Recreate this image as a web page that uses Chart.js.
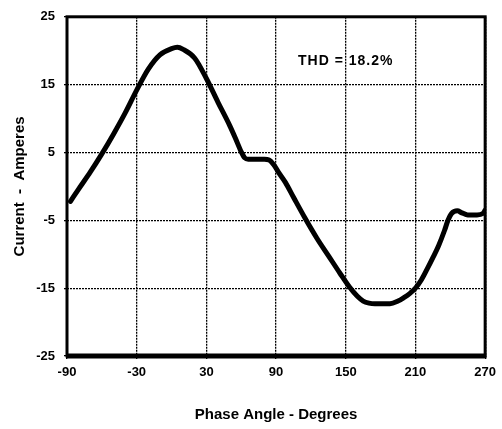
<!DOCTYPE html>
<html>
<head>
<meta charset="utf-8">
<script src="https://cdn.jsdelivr.net/npm/chart.js@4/dist/chart.umd.min.js"></script>
<style>
  html, body { margin: 0; padding: 0; background: #fff; }
  #wrap { width: 502px; height: 429px; }
</style>
</head>
<body>
<div id="wrap"><canvas id="wave"></canvas></div>
<script>
// phase angle (degrees) and line current (amperes)
const phaseAngle = [-87, -80, -70, -60, -50, -40, -30, -20, -10, 0, 5, 10, 20, 30, 40, 50, 55, 60, 63, 66,
  70, 80, 84, 88, 92, 98, 105, 115, 125, 135, 145, 153, 160, 165, 170, 175, 180, 188, 195, 200,
  205, 210, 215, 220, 225, 230, 235, 238, 241, 246, 250, 255, 263, 268, 270];
const current = [-2.2, -0.4, 2.1, 4.8, 7.7, 10.8, 14.2, 17.3, 19.4, 20.3, 20.5, 20.2, 18.9, 15.9, 12.4, 9.0, 7.1, 5.1, 4.2, 4.0,
  4.0, 4.0, 3.9, 3.2, 2.1, 0.6, -1.6, -4.7, -7.6, -10.2, -12.8, -14.8, -16.2, -16.9, -17.2, -17.3, -17.3, -17.3, -16.9, -16.4,
  -15.8, -15.0, -13.8, -12.2, -10.5, -8.7, -6.5, -5.0, -4.0, -3.6, -3.9, -4.2, -4.2, -4.0, -3.5];

const xTicks = [-90, -30, 30, 90, 150, 210, 270];
const yTicks = [-25, -15, -5, 5, 15, 25];

const thdText = 'THD = 18.2%';
const thdAt = { x: 150, y: 18.5 };

const boldFont = size => ({ family: '"Liberation Sans", Arial, sans-serif', size: size, weight: 'bold' });

// heavy black frame round the plot area, bottom edge thicker
const framePlugin = {
  id: 'frame',
  afterDraw(chart) {
    const { ctx, chartArea: a } = chart;
    ctx.save();
    ctx.strokeStyle = '#000';
    ctx.lineWidth = 3;
    ctx.strokeRect(a.left, a.top, a.right - a.left, a.bottom - a.top);
    ctx.lineWidth = 5;
    ctx.beginPath();
    ctx.moveTo(a.left - 1, a.bottom);
    ctx.lineTo(a.right + 1, a.bottom);
    ctx.stroke();
    ctx.restore();
  }
};

const thdPlugin = {
  id: 'thd',
  afterDatasetsDraw(chart) {
    const { ctx, scales } = chart;
    ctx.save();
    ctx.font = 'bold 14px "Liberation Sans", Arial, sans-serif';
    ctx.letterSpacing = '1px';
    ctx.fillStyle = '#000';
    ctx.textAlign = 'center';
    ctx.textBaseline = 'middle';
    ctx.fillText(thdText, scales.x.getPixelForValue(thdAt.x), scales.y.getPixelForValue(thdAt.y));
    ctx.restore();
  }
};

new Chart(document.getElementById('wave'), {
  type: 'line',
  data: {
    datasets: [{
      data: phaseAngle.map((a, i) => ({ x: a, y: current[i] })),
      borderColor: '#000',
      borderWidth: 5,
      pointRadius: 0,
      cubicInterpolationMode: 'monotone',
      borderCapStyle: 'round',
      borderJoinStyle: 'round'
    }]
  },
  options: {
    responsive: true,
    maintainAspectRatio: false,
    animation: false,
    layout: { padding: { top: 12, right: 14, left: 9, bottom: 3 } },
    plugins: { legend: { display: false }, tooltip: { enabled: false } },
    scales: {
      x: {
        type: 'linear',
        min: -90,
        max: 270,
        afterBuildTicks: s => { s.ticks = xTicks.map(v => ({ value: v })); },
        afterFit: s => { s.height = 70; },
        ticks: { color: '#000', font: boldFont(13), padding: 6, maxRotation: 0 },
        grid: { color: '#000', lineWidth: 1.3, tickLength: 3 },
        border: { display: false, dash: [2, 1] },
        title: { display: true, text: 'Phase Angle - Degrees', color: '#000', font: boldFont(15), padding: { top: 2, bottom: 2 } }
      },
      y: {
        min: -25,
        max: 25,
        afterBuildTicks: s => { s.ticks = yTicks.map(v => ({ value: v })); },
        afterFit: s => { s.width = 58; },
        ticks: { color: '#000', font: boldFont(13), padding: 9 },
        grid: { color: '#000', lineWidth: 1.3, tickLength: 3 },
        border: { display: false, dash: [2, 1] },
        title: { display: true, text: 'Current  -  Amperes', color: '#000', font: boldFont(15), padding: { top: 2, bottom: 2 } }
      }
    }
  },
  plugins: [framePlugin, thdPlugin]
});
</script>
</body>
</html>
